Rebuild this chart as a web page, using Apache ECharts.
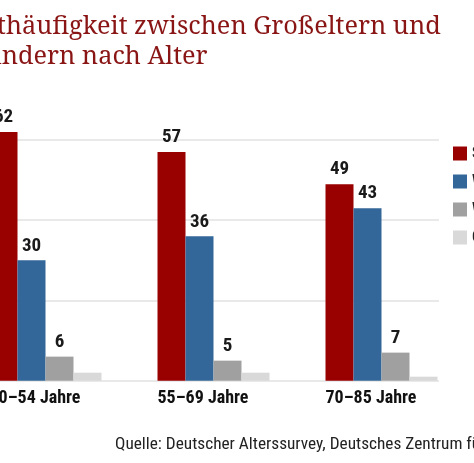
<!DOCTYPE html>
<html><head><meta charset="utf-8">
<script src="https://cdn.jsdelivr.net/npm/echarts@6/dist/echarts.min.js"></script>
<style>
html,body{margin:0;padding:0;width:474px;height:463px;overflow:hidden;background:#fff;position:relative}
#c{position:absolute;left:-150px;top:0;width:1000px;height:463px}
</style></head><body>
<div id="c"></div>
<script>
const categories = ['40–54 Jahre', '55–69 Jahre', '70–85 Jahre'];
const seriesNames = ['Sehr häufig', 'Wöchentlich', 'Weniger häufig', 'Gar nicht'];
const sehrHaeufig = [62, 57, 49];
const woechentlich = [30, 36, 43];
const weniger = [6, 5, 7];
const garNicht = [2, 2, 1];
const yTicks = [0, 20, 40, 60];
const titleText = 'Kontakthäufigkeit zwischen Großeltern und\nEnkelkindern nach Alter';
const sourceText = 'Quelle: Deutscher Alterssurvey, Deutsches Zentrum für Altersfragen';

const OFF = 150;
const colors = ['#990000', '#336699', '#a0a0a0', '#d9d9d9'];
const narrow = '"Roboto Condensed", "Liberation Sans", sans-serif';
const chart = echarts.init(document.getElementById('c'), null, {renderer: 'canvas'});
const lbl = {show: true, position: 'top', distance: 5, fontFamily: narrow, fontWeight: 'bold', fontSize: 19, color: '#1a1a1a'};
const vals = [sehrHaeufig, woechentlich, weniger, garNicht];
chart.setOption({
  animation: false,
  grid: [
    {left: -38.5 + OFF, width: 504, top: 140, height: 240.7},
    {left: -9 + OFF, width: 448, top: 140, height: 240.7}
  ],
  xAxis: [
    {type: 'category', gridIndex: 0, data: categories,
     axisLine: {show: false}, axisTick: {show: false},
     axisLabel: {fontFamily: narrow, fontWeight: 'bold', fontSize: 18, color: '#111', margin: 9, padding: [0, 21, 0, 0]}},
    {type: 'category', gridIndex: 1, data: categories, show: false}
  ],
  yAxis: [
    {type: 'value', gridIndex: 0, min: yTicks[0], max: yTicks[yTicks.length - 1], interval: 20, show: false, splitLine: {show: false}},
    {type: 'value', gridIndex: 1, min: yTicks[0], max: yTicks[yTicks.length - 1], interval: 20,
     axisLine: {show: false}, axisTick: {show: false}, axisLabel: {show: false},
     splitLine: {show: true, lineStyle: {color: '#e2e2e2', width: 1.5}}}
  ],
  legend: {
    orient: 'vertical', left: 448 + OFF, top: 140, itemWidth: 14, itemHeight: 14, itemGap: 11,
    icon: 'rect', data: seriesNames,
    textStyle: {fontFamily: narrow, fontWeight: 'bold', fontSize: 17, color: '#222', lineHeight: 14}
  },
  graphic: [
    {type: 'text', left: -89 + OFF, top: 11.5, style: {text: titleText, fontFamily: '"Noto Serif", "DejaVu Serif", serif', fontSize: 25.3, lineHeight: 30, fill: '#8a1515'}},
    {type: 'text', left: 115 + OFF, top: 436, style: {text: sourceText, fontFamily: narrow, fontSize: 17.3, fill: '#222'}}
  ],
  series: seriesNames.map((n, i) => ({
    name: n, type: 'bar', xAxisIndex: 0, yAxisIndex: 0, data: vals[i],
    barWidth: 28, barGap: '0%', clip: false,
    itemStyle: {color: colors[i]},
    label: i < 3 ? lbl : {show: false}
  }))
});
</script></body></html>
